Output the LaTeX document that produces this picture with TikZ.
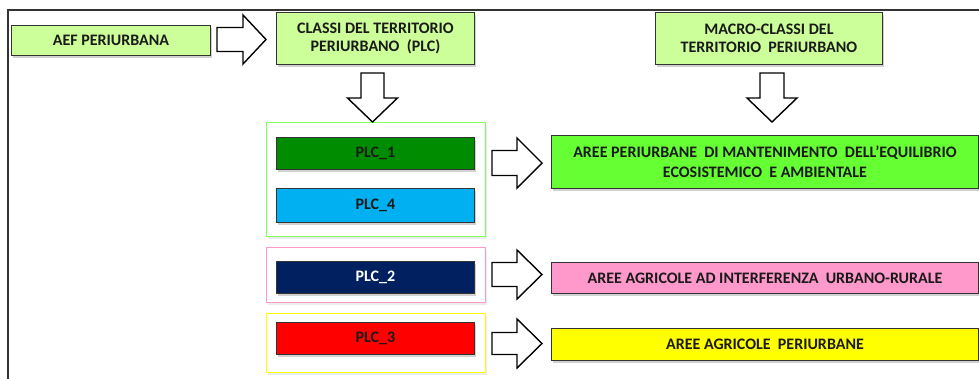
\documentclass[tikz,border=0pt]{standalone}
\usepackage{fontspec}
\setmainfont{Carlito}
\usetikzlibrary{shadows}
\definecolor{lgreen}{HTML}{CCFF99}
\definecolor{bgreen}{HTML}{66FF33}
\definecolor{dgreen}{HTML}{008C00}
\definecolor{cyanb}{HTML}{00B0F0}
\definecolor{navy}{HTML}{002060}
\definecolor{pinkb}{HTML}{FF99CC}
\definecolor{redb}{HTML}{FF0000}
\definecolor{yellowb}{HTML}{FFFF00}
\definecolor{edge}{HTML}{333333}
\definecolor{grpgreen}{HTML}{80FF60}
\definecolor{txt}{HTML}{1A1A1A}
\tikzset{
  box/.style={draw=edge, line width=0.9pt, inner sep=0pt, anchor=north west,
    align=center, text=txt, font=\fontsize{16}{18.5}\selectfont\bfseries,
    drop shadow={shadow xshift=2pt, shadow yshift=-2.5pt, fill=black!40, opacity=0.45}},
  grp/.style={line width=0.8pt, inner sep=0pt, anchor=north west, fill=white,
    drop shadow={shadow xshift=2pt, shadow yshift=-2.5pt, fill=black!15, opacity=0.5}},
  blockarrow/.style={draw=black, line width=1.4pt, fill=white, line join=miter},
}
% right-pointing block arrow: #1 left x, #2 centre y, #3 length, #4 head width, #5 shaft width, #6 head length
\newcommand{\rightblock}[6]{%
  \draw[blockarrow] (#1,#2-#5/2) -- (#1+#3-#6,#2-#5/2) -- (#1+#3-#6,#2-#4/2) -- (#1+#3,#2)
    -- (#1+#3-#6,#2+#4/2) -- (#1+#3-#6,#2+#5/2) -- (#1,#2+#5/2) -- cycle;}
% down-pointing block arrow: #1 centre x, #2 top y, #3 length, #4 head width, #5 shaft width, #6 head length
\newcommand{\downblock}[6]{%
  \draw[blockarrow] (#1-#5/2,#2) -- (#1-#5/2,#2+#3-#6) -- (#1-#4/2,#2+#3-#6) -- (#1,#2+#3)
    -- (#1+#4/2,#2+#3-#6) -- (#1+#5/2,#2+#3-#6) -- (#1+#5/2,#2) -- cycle;}
\begin{document}
\begin{tikzpicture}[x=1pt,y=-1pt]
\useasboundingbox (0,0) rectangle (979,378);
% frame
\draw[edge, line width=1.5pt] (979,10) -- (8,10) -- (8,380);
% top row
\node[box, fill=lgreen, minimum width=199pt, minimum height=30pt] (aef) at (11,25) {AEF PERIURBANA};
\node[box, fill=lgreen, minimum width=198pt, minimum height=52pt] (classi) at (276,12) {CLASSI DEL TERRITORIO\\PERIURBANO~ (PLC)};
\node[box, fill=lgreen, minimum width=227pt, minimum height=52pt] (macro) at (655,12) {MACRO-CLASSI DEL\\TERRITORIO~ PERIURBANO};
% group frames
\node[grp, draw=grpgreen, minimum width=219pt, minimum height=114pt] (g1) at (266,122) {};
\node[grp, draw=pinkb, minimum width=219pt, minimum height=55pt] (g2) at (266,247) {};
\node[grp, draw=yellowb, minimum width=219pt, minimum height=59pt] (g3) at (266,313) {};
% PLC boxes
\node[box, fill=dgreen, minimum width=198pt, minimum height=32pt] (plc1) at (276,137) {PLC\_1};
\node[box, fill=cyanb, minimum width=198pt, minimum height=34pt] (plc4) at (276,188) {PLC\_4};
\node[box, fill=navy, text=white, minimum width=198pt, minimum height=32pt] (plc2) at (276,261) {PLC\_2};
\node[box, fill=redb, minimum width=198pt, minimum height=32pt] (plc3) at (276,322) {PLC\_3};
% macro-class boxes
\node[box, fill=bgreen, minimum width=427pt, minimum height=53pt, font=\fontsize{16}{20}\selectfont\bfseries] (m1) at (551,135) {AREE PERIURBANE~ DI MANTENIMENTO~ DELL’EQUILIBRIO\\ECOSISTEMICO~ E AMBIENTALE};
\node[box, fill=pinkb, minimum width=427pt, minimum height=31pt] (m2) at (551,262) {AREE AGRICOLE AD INTERFERENZA~ URBANO-RURALE};
\node[box, fill=yellowb, minimum width=427pt, minimum height=32pt] (m3) at (551,328) {AREE AGRICOLE~ PERIURBANE};
% block arrows
\rightblock{217}{39.5}{49}{49}{24}{23}
\downblock{372.5}{73}{49}{50}{23}{24}
\downblock{772}{73}{49}{50}{24}{24}
\rightblock{492}{163}{50}{50}{25}{25}
\rightblock{492}{274.5}{50}{49}{24}{25}
\rightblock{492}{343.5}{50}{49}{22}{25}
\end{tikzpicture}
\end{document}
